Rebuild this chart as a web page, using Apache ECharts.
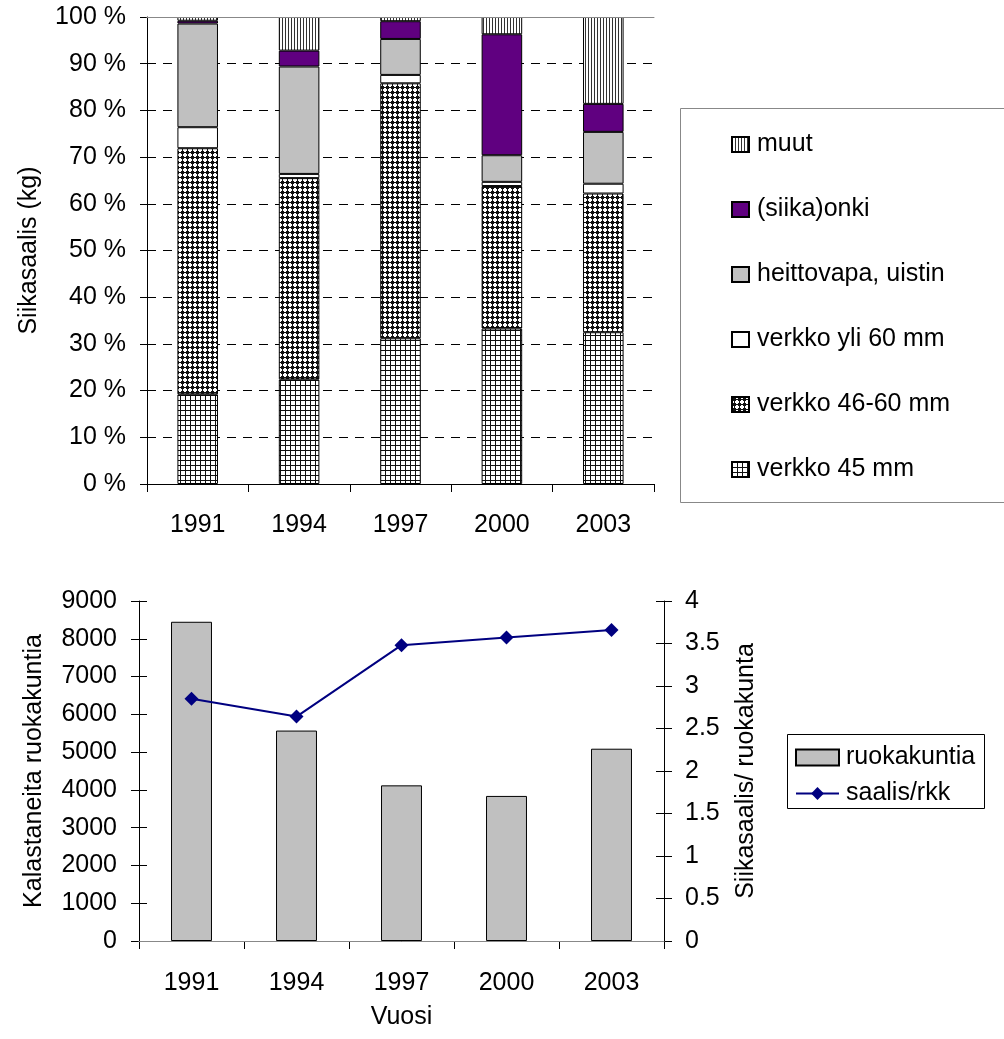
<!DOCTYPE html>
<html>
<head>
<meta charset="utf-8">
<script src="https://cdn.jsdelivr.net/npm/echarts@6/dist/echarts.min.js"></script>
<style>
html,body{margin:0;padding:0;background:#fff;}
#main{width:1004px;height:1039px;}
</style>
</head>
<body>
<div id="main"></div>
<script>
// ---- data ----
const years = ['1991', '1994', '1997', '2000', '2003'];
const verkko45 = [19.2, 22.4, 31.2, 33.3, 32.5];
const verkko4660 = [52.7, 43.1, 54.6, 30.5, 29.7];
const verkkoYli60 = [4.5, 0.9, 1.8, 0.9, 2.1];
const heittovapa = [22.2, 23.0, 7.7, 5.7, 11.1];
const onki = [0.6, 3.4, 3.8, 25.9, 6.0];
const muut = [0.8, 7.2, 0.9, 3.7, 18.6];
const ruokakuntia = [8450, 5570, 4120, 3840, 5090];
const saalisRkk = [2.85, 2.64, 3.48, 3.57, 3.66];
const topNames = ['verkko 45 mm', 'verkko 46-60 mm', 'verkko yli 60 mm', 'heittovapa, uistin', '(siika)onki', 'muut'];

// ---- patterns ----
function pat(w, h, draw) {
  const c = document.createElement('canvas');
  c.width = w; c.height = h;
  const g = c.getContext('2d');
  g.fillStyle = '#fff'; g.fillRect(0, 0, w, h);
  g.fillStyle = '#111';
  draw(g);
  return { image: c, repeat: 'repeat' };
}
const gridPat = pat(5, 5, g => { g.fillRect(0, 0, 5, 1); g.fillRect(0, 0, 1, 5); });
const dotPat = pat(5, 5, g => {
  g.fillRect(1, 1, 3, 3); g.fillRect(2, 0, 1, 1); g.fillRect(2, 4, 1, 1);
  g.fillRect(0, 2, 1, 1); g.fillRect(4, 2, 1, 1);
});
const vlinePat = pat(3, 1, g => { g.fillStyle = '#333'; g.fillRect(0, 0, 1, 1); });

const FONT = 'Liberation Sans, Arial, sans-serif';
const FS = 25;
const txt = { fontFamily: FONT, fontSize: FS, color: '#000' };

const topFills = [gridPat, dotPat, '#ffffff', '#c0c0c0', '#600080', vlinePat];
const topData = [verkko45, verkko4660, verkkoYli60, heittovapa, onki, muut];

const topSeries = topData.map((d, i) => ({
  name: topNames[i], type: 'bar', stack: 'a', xAxisIndex: 0, yAxisIndex: 0,
  barWidth: '40%', data: d,
  itemStyle: { color: topFills[i], borderColor: '#000', borderWidth: 1 }
}));

const chart = echarts.init(document.getElementById('main'), null, { renderer: 'canvas' });
chart.setOption({
  animation: false,
  backgroundColor: '#fff',
  textStyle: { fontFamily: FONT },
  grid: [
    { left: 147, top: 17, width: 507, height: 467 },
    { left: 139, top: 601, width: 525, height: 340 }
  ],
  xAxis: [
    { type: 'category', gridIndex: 0, data: years, boundaryGap: true,
      axisLine: { lineStyle: { color: '#000', width: 1 } },
      axisTick: { show: true, inside: false, length: 8, interval: 0, lineStyle: { color: '#000' } },
      axisLabel: Object.assign({ margin: 29, interval: 0 }, txt) },
    { type: 'category', gridIndex: 0, data: years, position: 'top', z: 5,
      axisLine: { lineStyle: { color: '#888', width: 1 } },
      axisTick: { show: false }, axisLabel: { show: false } },
    { type: 'category', gridIndex: 1, data: years, boundaryGap: true,
      axisLine: { lineStyle: { color: '#000', width: 1 } },
      axisTick: { show: true, inside: false, length: 8, interval: 0, lineStyle: { color: '#000' } },
      axisLabel: Object.assign({ margin: 30, interval: 0 }, txt),
      name: 'Vuosi', nameLocation: 'middle', nameGap: 64, nameTextStyle: txt },
    { type: 'category', gridIndex: 1, data: years, boundaryGap: true,
      axisLine: { show: false },
      axisTick: { show: true, inside: true, length: 8, interval: 0, lineStyle: { color: '#000' } },
      axisLabel: { show: false } },
    { type: 'category', gridIndex: 1, data: years, position: 'top', z: 5,
      axisLine: { lineStyle: { color: '#888', width: 1 } },
      axisTick: { show: false }, axisLabel: { show: false } }
  ],
  yAxis: [
    { type: 'value', gridIndex: 0, min: 0, max: 100, interval: 10,
      axisLine: { show: true, lineStyle: { color: '#000' } },
      axisTick: { show: true, inside: false, length: 7, lineStyle: { color: '#000' } },
      axisLabel: Object.assign({ margin: 21, formatter: '{value} %' }, txt),
      splitLine: { show: true, lineStyle: { color: '#000', type: [9, 7], width: 1 } },
      name: 'Siikasaalis (kg)', nameLocation: 'middle', nameRotate: 90, nameGap: 105, nameTextStyle: txt },
    { type: 'value', gridIndex: 1, min: 0, max: 9000, interval: 1000, position: 'left',
      axisLine: { show: true, lineStyle: { color: '#000' } },
      axisTick: { show: true, inside: false, length: 8, lineStyle: { color: '#000' } },
      axisLabel: Object.assign({ margin: 22, formatter: v => String(v) }, txt),
      splitLine: { show: false },
      name: 'Kalastaneita ruokakuntia', nameLocation: 'middle', nameRotate: 90, nameGap: 92, nameTextStyle: txt },
    { type: 'value', gridIndex: 1, min: 0, max: 4, interval: 0.5, position: 'right',
      axisLine: { show: true, lineStyle: { color: '#000' } },
      axisTick: { show: true, inside: false, length: 8, lineStyle: { color: '#000' } },
      axisLabel: Object.assign({ margin: 21 }, txt),
      splitLine: { show: false },
      name: 'Siikasaalis/ ruokakunta', nameLocation: 'middle', nameRotate: 90, nameGap: 70, nameTextStyle: txt },
    { type: 'value', gridIndex: 1, min: 0, max: 9000, interval: 1000, position: 'left',
      axisLine: { show: false },
      axisTick: { show: true, inside: true, length: 8, lineStyle: { color: '#000' } },
      axisLabel: { show: false }, splitLine: { show: false } },
    { type: 'value', gridIndex: 1, min: 0, max: 4, interval: 0.5, position: 'right',
      axisLine: { show: false },
      axisTick: { show: true, inside: true, length: 8, lineStyle: { color: '#000' } },
      axisLabel: { show: false }, splitLine: { show: false } }
  ],
  legend: [
    { orient: 'vertical', left: 731, top: 132, padding: 0, itemGap: 40,
      itemWidth: 17, itemHeight: 15, selectedMode: false, icon: 'rect',
      textStyle: Object.assign({ padding: [0, 0, 0, 3] }, txt),
      data: topNames.slice().reverse() },
    { orient: 'vertical', left: 795, top: 745, padding: 0, itemGap: 11,
      itemWidth: 43, itemHeight: 16, selectedMode: false,
      textStyle: Object.assign({ padding: [0, 0, 0, 2] }, txt),
      data: [{ name: 'ruokakuntia', icon: 'rect' }, { name: 'saalis/rkk' }] }
  ],
  graphic: [
    { type: 'rect', shape: { x: 680.5, y: 108.5, width: 340, height: 394 },
      style: { fill: 'none', stroke: '#888', lineWidth: 1 }, silent: true, z: -1 },
    { type: 'rect', shape: { x: 787.5, y: 734.5, width: 197, height: 74 },
      style: { fill: 'none', stroke: '#000', lineWidth: 1 }, silent: true, z: -1 }
  ],
  series: topSeries.concat([
    { name: 'ruokakuntia', type: 'bar', xAxisIndex: 2, yAxisIndex: 1, barWidth: '39%',
      data: ruokakuntia,
      itemStyle: { color: '#c0c0c0', borderColor: '#000', borderWidth: 1 } },
    { name: 'saalis/rkk', type: 'line', xAxisIndex: 2, yAxisIndex: 2, data: saalisRkk,
      symbol: 'diamond', symbolSize: 14,
      lineStyle: { color: '#000080', width: 2 },
      itemStyle: { color: '#000080' } }
  ])
});
</script>
</body>
</html>
